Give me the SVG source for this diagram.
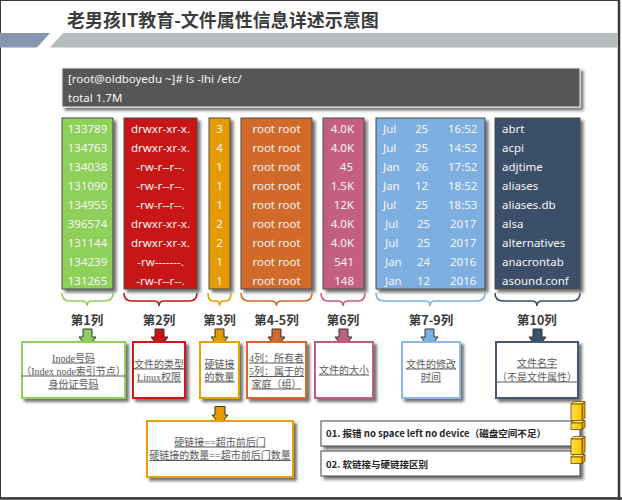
<svg xmlns="http://www.w3.org/2000/svg" width="622" height="500" viewBox="0 0 622 500">
<defs>
<filter id="sh" x="-20%" y="-20%" width="150%" height="150%">
<feDropShadow dx="3" dy="3" stdDeviation="1.6" flood-color="#000" flood-opacity="0.55"/>
</filter>
<linearGradient id="exf" x1="0" y1="0" x2="1" y2="0">
<stop offset="0" stop-color="#ffe04a"/><stop offset="1" stop-color="#ffc400"/>
</linearGradient>
</defs>
<style>
.ct{font-family:"Noto Sans","Open Sans",sans-serif;font-size:11.5px;fill:#f6f6f6}
.mid{text-anchor:middle}
.end{text-anchor:end}
.col{stroke:#4a4a4a;stroke-width:1}
.desc{font-family:"Liberation Serif","Noto Sans CJK SC",serif;font-size:10px;fill:#5a5a5a;text-anchor:middle;text-decoration:underline}
.lbl{font-family:"Noto Sans CJK SC","Noto Sans",sans-serif;font-size:12.5px;font-weight:bold;fill:#3a3a3a;text-anchor:middle}
.box{fill:#fff;stroke-width:2}
.br{fill:none;stroke-width:1.6}
.ar{stroke:#333;stroke-width:1}
.nt{font-family:"Noto Sans CJK SC","Noto Sans",sans-serif;font-size:9.5px;font-weight:bold;fill:#262626}
</style>
<rect x="0" y="0" width="622" height="500" fill="#fff"/>
<g id="frame">
<rect x="0.5" y="0.5" width="618.5" height="497.5" fill="none" stroke="#3a3a3a" stroke-width="1"/>
<line x1="619" y1="0" x2="619" y2="500" stroke="#3a3a3a" stroke-width="2.5"/>
<line x1="0" y1="498.5" x2="622" y2="498.5" stroke="#3a3a3a" stroke-width="2.5"/>
</g>
<g id="header">
<text x="67" y="27" font-family="Noto Sans CJK SC,sans-serif" font-size="18" font-weight="bold" fill="#3c3c3c">老男孩IT教育-文件属性信息详述示意图</text>
<polygon points="0,33 50,33 37,47.5 0,47.5" fill="#8797b2"/>
<polygon points="63,33 618,33 618,47.5 50,47.5" fill="#b3bebe"/>
</g>
<g id="terminal">
<rect x="62" y="68" width="518" height="39" fill="#565656" stroke="#f0f0f0" stroke-width="1" filter="url(#sh)"/>
<text class="ct" x="68" y="83">[root@oldboyedu ~]# ls -lhi /etc/</text>
<text class="ct" x="68" y="102">total 1.7M</text>
</g>
<g id="col1">
<rect class="col" x="62" y="118" width="51" height="171" fill="#8fd05a" filter="url(#sh)"/>
<text class="ct mid"><tspan x="87.5" y="133">133789</tspan><tspan x="87.5" y="152">134763</tspan><tspan x="87.5" y="171">134038</tspan><tspan x="87.5" y="190">131090</tspan><tspan x="87.5" y="209">134955</tspan><tspan x="87.5" y="228">396574</tspan><tspan x="87.5" y="247">131144</tspan><tspan x="87.5" y="266">134239</tspan><tspan x="87.5" y="285">131265</tspan></text>
</g>
<g id="col2">
<rect class="col" x="124" y="118" width="73" height="171" fill="#c81317" filter="url(#sh)"/>
<text class="ct mid"><tspan x="160.5" y="133">drwxr-xr-x.</tspan><tspan x="160.5" y="152">drwxr-xr-x.</tspan><tspan x="160.5" y="171">-rw-r--r--.</tspan><tspan x="160.5" y="190">-rw-r--r--.</tspan><tspan x="160.5" y="209">-rw-r--r--.</tspan><tspan x="160.5" y="228">drwxr-xr-x.</tspan><tspan x="160.5" y="247">drwxr-xr-x.</tspan><tspan x="160.5" y="266">-rw-------.</tspan><tspan x="160.5" y="285">-rw-r--r--.</tspan></text>
</g>
<g id="col3">
<rect class="col" x="209" y="118" width="21" height="171" fill="#e59b00" filter="url(#sh)"/>
<text class="ct mid"><tspan x="219.5" y="133">3</tspan><tspan x="219.5" y="152">4</tspan><tspan x="219.5" y="171">1</tspan><tspan x="219.5" y="190">1</tspan><tspan x="219.5" y="209">1</tspan><tspan x="219.5" y="228">2</tspan><tspan x="219.5" y="247">2</tspan><tspan x="219.5" y="266">1</tspan><tspan x="219.5" y="285">1</tspan></text>
</g>
<g id="col4">
<rect class="col" x="241" y="118" width="71" height="171" fill="#d0692b" filter="url(#sh)"/>
<text class="ct mid"><tspan x="276.5" y="133">root root</tspan><tspan x="276.5" y="152">root root</tspan><tspan x="276.5" y="171">root root</tspan><tspan x="276.5" y="190">root root</tspan><tspan x="276.5" y="209">root root</tspan><tspan x="276.5" y="228">root root</tspan><tspan x="276.5" y="247">root root</tspan><tspan x="276.5" y="266">root root</tspan><tspan x="276.5" y="285">root root</tspan></text>
</g>
<g id="col5">
<rect class="col" x="323" y="118" width="41" height="171" fill="#c35e80" filter="url(#sh)"/>
<text class="ct end"><tspan x="354" y="133">4.0K</tspan><tspan x="354" y="152">4.0K</tspan><tspan x="353" y="171">45</tspan><tspan x="354" y="190">1.5K</tspan><tspan x="354" y="209">12K</tspan><tspan x="354" y="228">4.0K</tspan><tspan x="354" y="247">4.0K</tspan><tspan x="354" y="266">541</tspan><tspan x="354" y="285">148</tspan></text>
</g>
<g id="col6">
<rect class="col" x="376" y="118" width="109" height="171" fill="#7eafe1" filter="url(#sh)"/>
<text class="ct"><tspan x="383" y="133">Jul</tspan><tspan x="383" y="152">Jul</tspan><tspan x="383" y="171">Jan</tspan><tspan x="383" y="190">Jan</tspan><tspan x="383" y="209">Jul</tspan><tspan x="385" y="228">Jul</tspan><tspan x="385" y="247">Jul</tspan><tspan x="385" y="266">Jan</tspan><tspan x="385" y="285">Jan</tspan></text>
<text class="ct"><tspan x="415" y="133">25</tspan><tspan x="415" y="152">25</tspan><tspan x="415" y="171">26</tspan><tspan x="415" y="190">12</tspan><tspan x="415" y="209">25</tspan><tspan x="417" y="228">25</tspan><tspan x="417" y="247">25</tspan><tspan x="417" y="266">24</tspan><tspan x="417" y="285">12</tspan></text>
<text class="ct"><tspan x="448" y="133">16:52</tspan><tspan x="448" y="152">14:52</tspan><tspan x="448" y="171">17:52</tspan><tspan x="448" y="190">18:52</tspan><tspan x="448" y="209">18:53</tspan><tspan x="450" y="228">2017</tspan><tspan x="450" y="247">2017</tspan><tspan x="450" y="266">2016</tspan><tspan x="450" y="285">2016</tspan></text>
</g>
<g id="col7">
<rect class="col" x="495" y="118" width="85" height="171" fill="#3b5069" filter="url(#sh)"/>
<text class="ct"><tspan x="502" y="133">abrt</tspan><tspan x="502" y="152">acpi</tspan><tspan x="502" y="171">adjtime</tspan><tspan x="502" y="190">aliases</tspan><tspan x="502" y="209">aliases.db</tspan><tspan x="502" y="228">alsa</tspan><tspan x="502" y="247">alternatives</tspan><tspan x="502" y="266">anacrontab</tspan><tspan x="502" y="285">asound.conf</tspan></text>
</g>
<g id="labels">
<text class="lbl" x="87" y="325">第1列</text>
<text class="lbl" x="159" y="325">第2列</text>
<text class="lbl" x="219.5" y="325">第3列</text>
<text class="lbl" x="276.5" y="325">第4-5列</text>
<text class="lbl" x="343" y="325">第6列</text>
<text class="lbl" x="431" y="325">第7-9列</text>
<text class="lbl" x="537" y="325">第10列</text>
</g>
<g id="connectors">
<path class="br" stroke="#8fd05a" d="M62,293 Q62,301 70,301 L82,301 Q87,301 87,306 Q87,301 92,301 L105,301 Q113,301 113,293"/>
<path class="br" stroke="#c81317" d="M124,293 Q124,301 132,301 L154,301 Q159,301 159,306 Q159,301 164,301 L189,301 Q197,301 197,293"/>
<path class="br" stroke="#e59b00" d="M208,293 Q208,301 213,301 L216,301 Q219.5,301 219.5,306 Q219.5,301 223,301 L226,301 Q231,301 231,293"/>
<path class="br" stroke="#d0692b" d="M241,293 Q241,301 249,301 L271,301 Q276.5,301 276.5,306 Q276.5,301 282,301 L304,301 Q312,301 312,293"/>
<path class="br" stroke="#c35e80" d="M321,293 Q321,301 328,301 L338,301 Q343,301 343,306 Q343,301 348,301 L358,301 Q365,301 365,293"/>
<path class="br" stroke="#7eafe1" d="M376,293 Q376,301 384,301 L425,301 Q430,301 430,306 Q430,301 435,301 L477,301 Q485,301 485,293"/>
<path class="br" stroke="#3b5069" d="M495,293 Q495,301 503,301 L532,301 Q537,301 537,306 Q537,301 542,301 L572,301 Q580,301 580,293"/>
<polygon class="ar" fill="#8fd05a" points="83,329 92,329 92,337 96,337 87.5,348 79,337 83,337"/>
<polygon class="ar" fill="#c81317" points="155,329 164,329 164,337 168,337 159.5,348 151,337 155,337"/>
<polygon class="ar" fill="#e59b00" points="215,329 224,329 224,337 228,337 219.5,348 211,337 215,337"/>
<polygon class="ar" fill="#d0692b" points="272,329 281,329 281,337 285,337 276.5,348 268,337 272,337"/>
<polygon class="ar" fill="#c35e80" points="339,329 348,329 348,337 352,337 343.5,348 335,337 339,337"/>
<polygon class="ar" fill="#7eafe1" points="425,329 434,329 434,337 438,337 429.5,348 421,337 425,337"/>
<polygon class="ar" fill="#3b5069" points="533,329 542,329 542,337 546,337 537.5,348 529,337 533,337"/>
<polygon class="ar" fill="#e59b00" points="215,406.5 225,406.5 225,415 228,415 220,425 212,415 215,415"/>
</g>
<g id="desc1">
<rect class="box" x="22" y="342" width="103" height="56" stroke="#8fd05a" filter="url(#sh)"/>
<text class="desc"><tspan x="73.5" y="361.5">Inode号码</tspan><tspan x="73.5" y="374.5">（Index node索引节点）</tspan><tspan x="73.5" y="387.5">身份证号码</tspan></text>
</g>
<g id="desc2">
<rect class="box" x="133" y="342" width="52" height="56" stroke="#d01414" filter="url(#sh)"/>
<text class="desc"><tspan x="159" y="367.5">文件的类型</tspan><tspan x="159" y="380.5">Linux权限</tspan></text>
</g>
<g id="desc3">
<rect class="box" x="200" y="342" width="39" height="56" stroke="#e8a000" filter="url(#sh)"/>
<text class="desc"><tspan x="219.5" y="367.5">硬链接</tspan><tspan x="219.5" y="380.5">的数量</tspan></text>
</g>
<g id="desc4">
<rect class="box" x="247" y="342" width="59" height="56" stroke="#d8692a" filter="url(#sh)"/>
<text class="desc" font-size="9.5"><tspan x="276.5" y="361.5">4列：所有者</tspan><tspan x="276.5" y="375">5列：属于的</tspan><tspan x="276.5" y="387.5">家庭（组）</tspan></text>
</g>
<g id="desc5">
<rect class="box" x="315" y="342" width="58" height="56" stroke="#c85a80" filter="url(#sh)"/>
<text class="desc" x="344" y="373.5">文件的大小</text>
</g>
<g id="desc6">
<rect class="box" x="402" y="342" width="58" height="56" stroke="#8ab8e8" filter="url(#sh)"/>
<text class="desc"><tspan x="431" y="367.5">文件的修改</tspan><tspan x="431" y="380.5">时间</tspan></text>
</g>
<g id="desc7">
<rect class="box" x="496" y="342" width="82" height="56" stroke="#3f5a78" filter="url(#sh)"/>
<text class="desc"><tspan x="537" y="366.5">文件名字</tspan><tspan x="537" y="380.5">（不是文件属性）</tspan></text>
</g>
<g id="hardlink">
<rect class="box" x="147" y="421" width="146" height="56" stroke="#e8a000" filter="url(#sh)"/>
<text class="desc"><tspan x="220" y="445.5">硬链接==超市前后门</tspan><tspan x="220" y="459">硬链接的数量==超市前后门数量</tspan></text>
</g>
<g id="note1">
<rect x="321" y="421" width="259" height="25" fill="#fff" stroke="#444" stroke-width="1" filter="url(#sh)"/>
<text class="nt" x="326" y="437" textLength="220" lengthAdjust="spacingAndGlyphs">01. 报错 no space left no device（磁盘空间不足）</text>
</g>
<g id="note2">
<rect x="321" y="451" width="259" height="25" fill="#fff" stroke="#444" stroke-width="1" filter="url(#sh)"/>
<text class="nt" x="326" y="468">02. 软链接与硬链接区别</text>
</g>
<g id="icon1" stroke="#6b4a00" stroke-width="0.8">
<polygon points="571,404 574,401.5 585,401.5 582,404" fill="#fff07a"/>
<polygon points="582,404 585,401.5 585,418 582,420.5" fill="#f0a000"/>
<rect x="571" y="404" width="11" height="16.5" fill="url(#exf)"/>
<polygon points="571,423 574,420.5 585,420.5 582,423" fill="#fff07a"/>
<polygon points="582,423 585,420.5 585,427 582,429.5" fill="#f0a000"/>
<rect x="571" y="423" width="11" height="6.5" fill="url(#exf)"/>
</g>
<g id="icon2" stroke="#6b4a00" stroke-width="0.8">
<polygon points="571,439 574,436.5 585,436.5 582,439" fill="#fff07a"/>
<polygon points="582,439 585,436.5 585,452 582,454.5" fill="#f0a000"/>
<rect x="571" y="439" width="11" height="15.5" fill="url(#exf)"/>
<polygon points="571,457 574,454.5 585,454.5 582,457" fill="#fff07a"/>
<polygon points="582,457 585,454.5 585,461 582,463.5" fill="#f0a000"/>
<rect x="571" y="457" width="11" height="6.5" fill="url(#exf)"/>
</g>
</svg>
